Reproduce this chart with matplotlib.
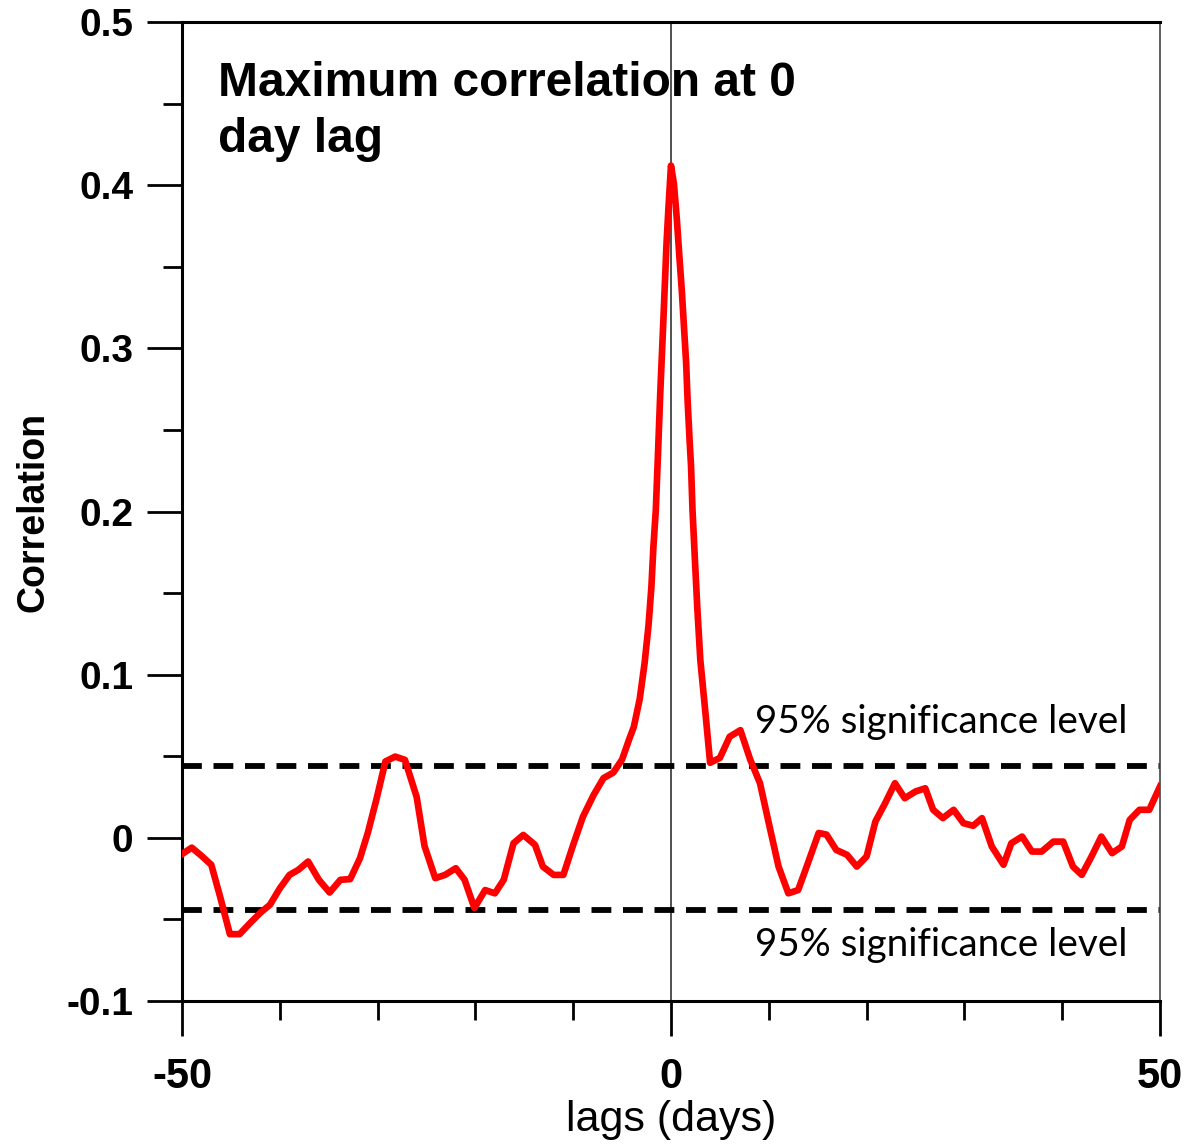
import matplotlib
matplotlib.use("Agg")
import matplotlib.pyplot as plt
from matplotlib.ticker import MultipleLocator

# lag (days) and correlation
lags = [-50, -49, -48, -47, -46.1, -45.1, -44.1, -43, -42, -41, -40, -39,
        -38.1, -37.1, -36, -34.9, -33.8, -32.8, -31.8, -31, -30.1, -29.2,
        -28.2, -27.2, -26, -25.2, -24.1, -23.1, -22, -21.1, -20.1, -19,
        -18, -17.1, -16.1, -15.1, -13.9, -13.1, -12, -11, -10, -9, -7.9,
        -6.9, -5.9, -5.0, -4.3, -3.8, -3.2, -2.7, -2.3, -2.0, -1.8, -1.55,
        -1.35, -1.1, -0.78, -0.45, -0.25, 0, 0.3, 0.6, 0.85, 1.1, 1.33,
        1.55, 1.7, 1.9, 2.05, 2.2, 2.45, 2.7, 3.0, 3.5, 4.0, 5.0, 6.0, 7.1,
        8.1, 9.1, 10, 11, 12, 13, 14, 15.1, 15.9, 16.9, 18, 19, 20, 20.9,
        21.9, 22.9, 23.9, 25, 26, 26.8, 27.8, 28.9, 29.9, 30.9, 31.8, 32.8,
        34, 34.8, 35.9, 36.9, 37.9, 39.1, 40.1, 41.1, 42, 43, 44, 45.1,
        46.1, 46.9, 47.9, 48.9, 50]
corr = [-0.010, -0.006, -0.011, -0.0165, -0.036, -0.059, -0.059, -0.052,
        -0.046, -0.041, -0.031, -0.0227, -0.0196, -0.0145, -0.0257, -0.0335,
        -0.0257, -0.0253, -0.0125, 0.003, 0.024, 0.0468, 0.0498, 0.0478,
        0.025, -0.005, -0.0247, -0.0227, -0.0186, -0.0257, -0.043, -0.032,
        -0.034, -0.0257, -0.0033, 0.0018, -0.0043, -0.0176, -0.0227, -0.0227,
        -0.0043, 0.013, 0.0264, 0.0366, 0.040, 0.048, 0.060, 0.068, 0.085,
        0.107, 0.130, 0.154, 0.178, 0.201, 0.232, 0.272, 0.317, 0.365, 0.387,
        0.412, 0.401, 0.379, 0.357, 0.336, 0.313, 0.291, 0.268, 0.244, 0.228,
        0.201, 0.170, 0.140, 0.109, 0.078, 0.046, 0.049, 0.062, 0.066, 0.048,
        0.0335, 0.009, -0.0176, -0.034, -0.032, -0.0155, 0.003, 0.002,
        -0.0074, -0.0104, -0.0176, -0.0114, 0.010, 0.0213, 0.0335, 0.0243,
        0.0284, 0.0304, 0.0172, 0.0121, 0.0172, 0.009, 0.0074, 0.0121,
        -0.0053, -0.0165, -0.0033, 0.0008, -0.0084, -0.0084, -0.0023,
        -0.0023, -0.0176, -0.0227, -0.0114, 0.0008, -0.0094, -0.0053, 0.011,
        0.0172, 0.0172, 0.0315]

sig_level = 0.044
sig_label = "95% significance level"
title_text = "Maximum correlation at 0\nday lag"

plt.rcParams['font.family'] = ['Liberation Sans', 'DejaVu Sans']

fig = plt.figure(figsize=(11.9, 11.46), dpi=100)
ax = fig.add_axes([0.1529, 0.1265, 0.8219, 0.8543])

ax.axvline(0, color='#222222', lw=1.1, zorder=1)
ax.axhline(sig_level, color='black', lw=4.2, ls=(0, (3.4, 2.0)), zorder=2)
ax.axhline(-sig_level, color='black', lw=4.2, ls=(0, (3.4, 2.0)), zorder=2)
ax.plot(lags, corr, color='#ff0000', lw=4.8, zorder=3)

ax.set_xlim(-50, 50)
ax.set_ylim(-0.1, 0.5)
ax.set_xticks([-50, 0, 50])
ax.set_xticklabels(['-50', '0', '50'])
ax.xaxis.set_minor_locator(MultipleLocator(10))
ax.set_yticks([-0.1, 0, 0.1, 0.2, 0.3, 0.4, 0.5])
ax.set_yticklabels(['-0.1', '0', '0.1', '0.2', '0.3', '0.4', '0.5'])
ax.yaxis.set_minor_locator(MultipleLocator(0.05))

ax.tick_params(axis='both', which='major', direction='out', length=25,
               width=2, color='black')
ax.tick_params(axis='both', which='minor', direction='out', length=14,
               width=2, color='black')
ax.tick_params(axis='x', which='major', pad=15, labelsize=30)
ax.tick_params(axis='y', which='major', pad=10, labelsize=28)
for lab in ax.get_xticklabels() + ax.get_yticklabels():
    lab.set_fontweight('bold')

for side in ['left', 'bottom', 'top']:
    ax.spines[side].set_linewidth(2.2)
    ax.spines[side].set_color('black')
ax.spines['right'].set_linewidth(1.2)
ax.spines['right'].set_color('#444444')

ax.set_xlabel('lags (days)', fontsize=31)
ax.xaxis.label.set_va('baseline')
ax.xaxis.set_label_coords(0.5, -0.1328)
ax.set_ylabel('Correlation', fontsize=27, fontweight='bold')
ax.yaxis.label.set_va('center')
ax.yaxis.set_label_coords(-0.152, 0.5)

ax.text(0.0368, 0.96, title_text, transform=ax.transAxes, ha='left',
        va='top', fontsize=34.5, fontweight='bold', linespacing=1.32)

ax.text(8.6, 0.071, sig_label, ha='left', va='center', fontsize=27.8,
        family=['Lato', 'DejaVu Sans'])
ax.text(8.6, -0.0656, sig_label, ha='left', va='center', fontsize=27.8,
        family=['Lato', 'DejaVu Sans'])

fig.savefig('out.png', dpi=100)
